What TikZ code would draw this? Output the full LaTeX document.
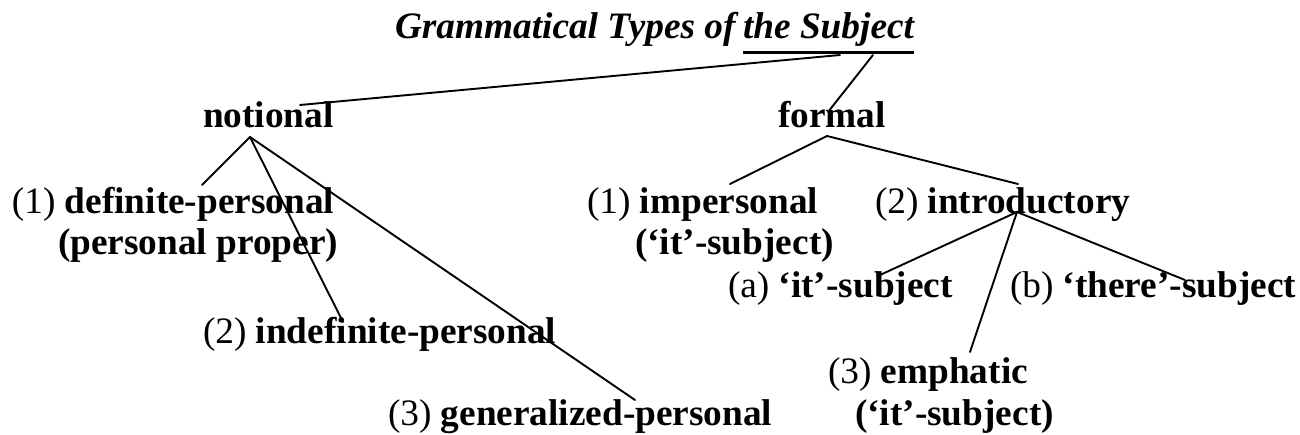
\documentclass[tikz,border=0pt]{standalone}
\usepackage{fontspec}
\setmainfont{Liberation Serif}
\newcommand{\bigtxt}{\fontsize{37.3}{40}\selectfont}
\begin{document}
\begin{tikzpicture}[x=1pt,y=-1pt,
  lbl/.style={anchor=base west,inner sep=0pt,outer sep=0pt,font=\bigtxt},
  conn/.style={line width=1.9pt,line cap=round}]
\useasboundingbox[fill=white] (0,0) rectangle (1300,435);
% title
\node[lbl,font=\bigtxt\bfseries\itshape] (title1) at (395,39) {Grammatical Types of};
\node[lbl,font=\bigtxt\bfseries\itshape] (title2) at (743,39) {the Subject};
\draw[line width=3pt] (title2.base west |- 0,53) -- (title2.base east |- 0,53);
% level 1
\node[lbl] (notional) at (203,128) {\bfseries notional};
\node[lbl] (formal) at (778,128) {\bfseries formal};
% notional children
\node[lbl] (def) at (12,214) {(1) \textbf{definite-personal}};
\node[lbl] (defb) at (58,255) {\textbf{(personal proper)}};
\node[lbl] (indef) at (203,343) {(2) \textbf{indefinite-personal}};
\node[lbl] (gen) at (388,425) {(3) \textbf{generalized-personal}};
% formal children
\node[lbl] (imp) at (587,214) {(1) \textbf{impersonal}};
\node[lbl] (impb) at (635,255) {\textbf{(‘it’-subject)}};
\node[lbl] (intro) at (875,214) {(2) \textbf{introductory}};
\node[lbl] (ita) at (728,298) {(a) \textbf{‘it’-subject}};
\node[lbl] (there) at (1010,298) {(b) \textbf{‘there’-subject}};
\node[lbl] (emph) at (828,383) {(3) \textbf{emphatic}};
\node[lbl] (emphb) at (855,425) {\textbf{(‘it’-subject)}};
% connector points
\coordinate (t-n) at (840,55);
\coordinate (t-f) at (873,55);
\coordinate (n-top) at (300,105);
\coordinate (f-top) at (828,112);
\coordinate (n-bot) at (250,137);
\coordinate (def-top) at (202,185);
\coordinate (indef-top) at (343,322);
\coordinate (gen-top) at (635,400);
\coordinate (f-bot) at (827,136);
\coordinate (imp-top) at (730,184);
\coordinate (intro-top) at (1018,184);
\coordinate (intro-bot) at (1017,212);
\coordinate (ita-top) at (880,275);
\coordinate (there-top) at (1185,280);
\coordinate (emph-top) at (970,352);
% connectors
\draw[conn] (t-n) -- (n-top);
\draw[conn] (t-f) -- (f-top);
\draw[conn] (n-bot) -- (def-top);
\draw[conn] (n-bot) -- (indef-top);
\draw[conn] (n-bot) -- (gen-top);
\draw[conn] (f-bot) -- (imp-top);
\draw[conn] (f-bot) -- (intro-top);
\draw[conn] (intro-bot) -- (ita-top);
\draw[conn] (intro-bot) -- (there-top);
\draw[conn] (intro-bot) -- (emph-top);
\end{tikzpicture}
\end{document}
